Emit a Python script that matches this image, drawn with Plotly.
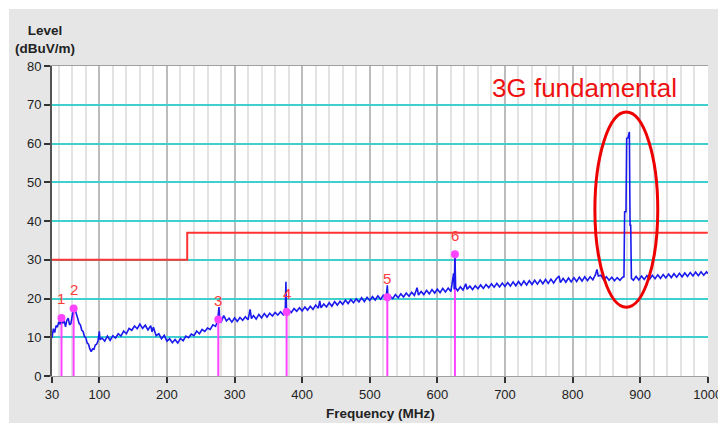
import plotly.graph_objects as go

# ---- data (spectrum, in segments) ----
FREQ_A = [30, 32, 34, 36, 38, 40, 42, 44, 46, 48, 50, 52, 54, 56, 58, 60, 62, 64, 66, 68,
          70, 72, 74, 76, 78, 80, 82, 84, 86, 88, 90, 92, 94, 96, 98, 100, 101]
LEVEL_A = [9.8, 12.2, 11.2, 13.0, 12.6, 14.0, 13.3, 15.0, 13.6, 14.3, 12.7, 14.4, 14.9, 13.2, 13.6, 15.5, 17.8, 17.2, 15.6, 14.9,
           13.6, 13.2, 11.8, 11.5, 10.2, 9.9, 8.5, 8.2, 7.0, 6.3, 7.0, 6.9, 8.0, 8.2, 9.0, 11.5, 9.4]

FREQ_B = [104, 108, 112, 116, 120, 124, 128, 132, 136, 140, 144, 148, 152, 156, 160, 164, 168, 172, 176,
          178, 180, 184, 188, 192, 196, 200, 204, 208, 212, 216, 220, 224, 228, 232, 236, 240, 244, 248,
          252, 256, 260, 264, 268, 272, 275, 277, 278, 280]
LEVEL_B = [9.8, 9.0, 10.3, 9.2, 10.4, 9.8, 10.9, 10.3, 11.6, 10.9, 12.3, 11.8, 12.9, 12.2, 13.4, 12.3, 13.1, 11.9, 13.0,
           11.4, 12.6, 10.4, 10.9, 9.6, 10.5, 9.0, 9.6, 8.6, 9.4, 8.5, 9.7, 9.1, 10.3, 9.9, 10.8, 10.4, 11.6, 10.9,
           12.0, 11.5, 12.4, 12.0, 13.2, 12.8, 14.4, 17.8, 14.6, 13.8]

FREQ_C = [284, 288, 292, 296, 300, 304, 308, 312, 316, 320, 323, 325, 328, 332, 336, 340,
          344, 348, 352, 356, 360, 364, 368, 372, 375, 376, 377, 380]
LEVEL_C = [15.6, 14.2, 14.9, 13.9, 15.0, 14.1, 15.1, 14.4, 15.3, 14.5, 17.2, 14.8, 15.6, 14.7, 15.9, 15.0,
           16.1, 15.2, 16.2, 15.5, 16.4, 15.7, 16.6, 15.8, 17.0, 24.3, 16.4, 17.0]

FREQ_D = [384, 388, 392, 396, 400, 404, 408, 412, 416, 420, 424, 426, 428, 432, 436, 440,
          444, 448, 452, 456, 460, 464, 468, 472, 476, 480, 484, 488, 492, 496, 500, 504,
          508, 512, 516, 520, 524, 526, 527, 530, 534, 538, 542, 546, 550, 554, 558, 562,
          566, 570, 572, 576, 580, 584, 588, 592, 596, 600, 604, 608, 612, 616, 620, 624,
          625, 626, 627, 630]
LEVEL_D = [16.4, 17.4, 16.7, 17.6, 16.8, 17.8, 17.0, 18.0, 17.2, 18.3, 17.5, 19.4, 17.6, 18.6, 17.8, 18.9,
           18.0, 19.2, 18.3, 19.3, 18.5, 19.6, 18.7, 19.7, 18.9, 19.9, 19.1, 20.2, 19.2, 20.3, 19.5, 20.5,
           19.6, 20.7, 19.8, 20.8, 19.9, 23.4, 20.3, 20.6, 20.0, 21.0, 20.2, 21.2, 20.4, 21.4, 20.6, 21.6,
           20.8, 22.8, 20.9, 21.8, 21.0, 22.1, 21.2, 22.3, 21.4, 22.4, 21.5, 22.6, 21.7, 22.7, 21.8, 26.5,
           22.3, 31.4, 22.8, 22.0]

FREQ_E = [634, 638, 642, 644, 648, 652, 656, 660, 664, 668, 672, 676, 680, 684, 688, 692,
          696, 700, 704, 708, 712, 716, 720, 724, 728, 732, 736, 740, 744, 748, 752, 756,
          760, 764, 768, 772, 776, 780, 782, 786, 790, 794, 798, 802, 806, 810, 814, 818,
          822, 826, 830, 834, 836, 838, 842, 846, 850, 854, 858, 862, 866, 870, 874, 876,
          877, 879, 880, 882, 884, 885, 886, 887, 890, 894, 898, 902, 906, 910, 914, 918,
          922, 926, 930, 934, 938, 942, 946, 950, 954, 958, 962, 966, 970, 974, 978, 982,
          986, 990, 994, 998, 1000]
LEVEL_E = [23.0, 22.2, 23.8, 22.4, 23.2, 22.3, 23.3, 22.5, 23.5, 22.6, 23.6, 22.8, 23.8, 22.9, 23.9, 23.0,
           24.0, 23.1, 24.1, 23.2, 24.3, 23.3, 24.4, 23.4, 24.5, 23.5, 24.6, 23.6, 24.7, 23.7, 24.8, 23.8,
           24.9, 23.9, 25.0, 24.0, 25.1, 25.8, 24.1, 25.2, 24.2, 25.3, 24.3, 25.4, 24.4, 25.5, 24.5, 25.6,
           24.6, 25.6, 24.8, 26.2, 27.5, 25.8, 26.0, 24.8, 25.6, 24.7, 25.5, 24.6, 25.4, 24.7, 25.5, 25.6,
           42.4, 42.4, 61.3, 61.5, 63.0, 38.9, 38.9, 25.2, 24.7, 25.7, 24.8, 25.8, 24.9, 25.9, 25.0, 26.0,
           25.1, 26.1, 25.2, 26.2, 25.3, 26.3, 25.4, 26.4, 25.5, 26.5, 25.6, 26.6, 25.7, 26.7, 25.8, 26.8,
           25.9, 26.9, 26.0, 26.9, 26.4]

FREQ = FREQ_A + FREQ_B + FREQ_C + FREQ_D + FREQ_E
LEVEL = LEVEL_A + LEVEL_B + LEVEL_C + LEVEL_D + LEVEL_E
assert len(FREQ) == len(LEVEL)

LIMIT_FREQ = [30, 230, 1000]
LIMIT_LEVEL = [30, 37, 37]

MARKER_FREQ = [44, 62, 276, 377, 526, 626]
MARKER_LEVEL = [15.0, 17.4, 14.6, 16.5, 20.3, 31.4]
MARKER_LABEL = ["1", "2", "3", "4", "5", "6"]

X_TICKS = [30, 100, 200, 300, 400, 500, 600, 700, 800, 900, 1000]
Y_TICKS = [0, 10, 20, 30, 40, 50, 60, 70, 80]

ELLIPSE_FREQ = [833, 926]
ELLIPSE_LEVEL = [17.75, 68.1]
NOTE_TEXT = "3G fundamental"
NOTE_POS = (818, 74.3)

FONT = "Liberation Sans, Arial, sans-serif"

fig = go.Figure()

# marker stems
sx, sy = [], []
for f, l in zip(MARKER_FREQ, MARKER_LEVEL):
    sx += [f, f, None]
    sy += [0, l, None]
fig.add_trace(go.Scatter(x=sx, y=sy, mode="lines",
                         line=dict(color="#ff44ff", width=2), hoverinfo="skip"))

# limit line
fig.add_trace(go.Scatter(x=LIMIT_FREQ, y=LIMIT_LEVEL, mode="lines",
                         line=dict(color="#ff3333", width=2, shape="hv")))

# spectrum
fig.add_trace(go.Scatter(x=FREQ, y=LEVEL, mode="lines",
                         line=dict(color="#1a1aee", width=1.6)))

# marker dots
fig.add_trace(go.Scatter(x=MARKER_FREQ, y=MARKER_LEVEL, mode="markers",
                         marker=dict(color="#ff44ff", size=8)))

for f, l, t in zip(MARKER_FREQ, MARKER_LEVEL, MARKER_LABEL):
    fig.add_annotation(x=f, y=l, text=t, showarrow=False, xref="x", yref="y",
                       yanchor="middle", yshift=19,
                       font=dict(family=FONT, size=15, color="#ff3b3b"))

fig.add_annotation(x=NOTE_POS[0], y=NOTE_POS[1], text=NOTE_TEXT, showarrow=False,
                   xref="x", yref="y", font=dict(family=FONT, size=26, color="#ee1111"))

fig.add_shape(type="circle", xref="x", yref="y",
              x0=ELLIPSE_FREQ[0], x1=ELLIPSE_FREQ[1],
              y0=ELLIPSE_LEVEL[0], y1=ELLIPSE_LEVEL[1],
              line=dict(color="#ee0000", width=3))

# white outer margin (top and left strips)
fig.add_shape(type="rect", xref="paper", yref="paper",
              x0=-52/656, x1=(718-52)/656, y0=1 + 57/310, y1=1 + 66/310,
              fillcolor="white", line_width=0, layer="above")
fig.add_shape(type="rect", xref="paper", yref="paper",
              x0=-52/656, x1=-43/656, y0=-47/310, y1=1 + 66/310,
              fillcolor="white", line_width=0, layer="above")

fig.add_annotation(xref="paper", yref="paper", x=-7/656, y=1 + 45/310,
                   xanchor="center", yanchor="top", showarrow=False, align="center",
                   text="<b>Level</b><br><b>(dBuV/m)</b>",
                   font=dict(family=FONT, size=13.5, color="#222222"))

fig.add_annotation(xref="paper", yref="paper", x=(380-52)/656, y=-(413-376)/310,
                   xanchor="center", yanchor="middle", showarrow=False,
                   text="<b>Frequency (MHz)</b>",
                   font=dict(family=FONT, size=13.5, color="#222222"))

fig.update_layout(
    width=718, height=423,
    margin=dict(l=52, r=10, t=66, b=47, autoexpand=False),
    paper_bgcolor="#e6e6e6",
    plot_bgcolor="white",
    showlegend=False,
    font=dict(family=FONT, size=13, color="#222222"),
    xaxis=dict(
        range=[30, 1000.3], tickvals=X_TICKS, ticktext=[str(v) for v in X_TICKS],
        ticks="outside", ticklen=6, tickwidth=1.5, tickcolor="#333333",
        showgrid=True, gridcolor="#bcbcbc", gridwidth=2,
        minor=dict(tick0=0, dtick=20, showgrid=True, gridcolor="#e3e3e3", gridwidth=2, ticks=""),
        showline=True, linecolor="#a0a0a0", linewidth=1, mirror=True,
        zeroline=False, automargin=False, ticklabeloverflow="allow",
        tickfont=dict(size=13, color="#222222"),
    ),
    yaxis=dict(
        range=[0, 80], tickvals=Y_TICKS,
        ticks="outside", ticklen=6, tickwidth=1.5, tickcolor="#333333",
        showgrid=True, gridcolor="#3fcfcf", gridwidth=2,
        showline=True, linecolor="#555555", linewidth=2,
        zeroline=False, automargin=False,
        tickfont=dict(size=13, color="#222222"),
    ),
)

fig.write_html("out.html")
